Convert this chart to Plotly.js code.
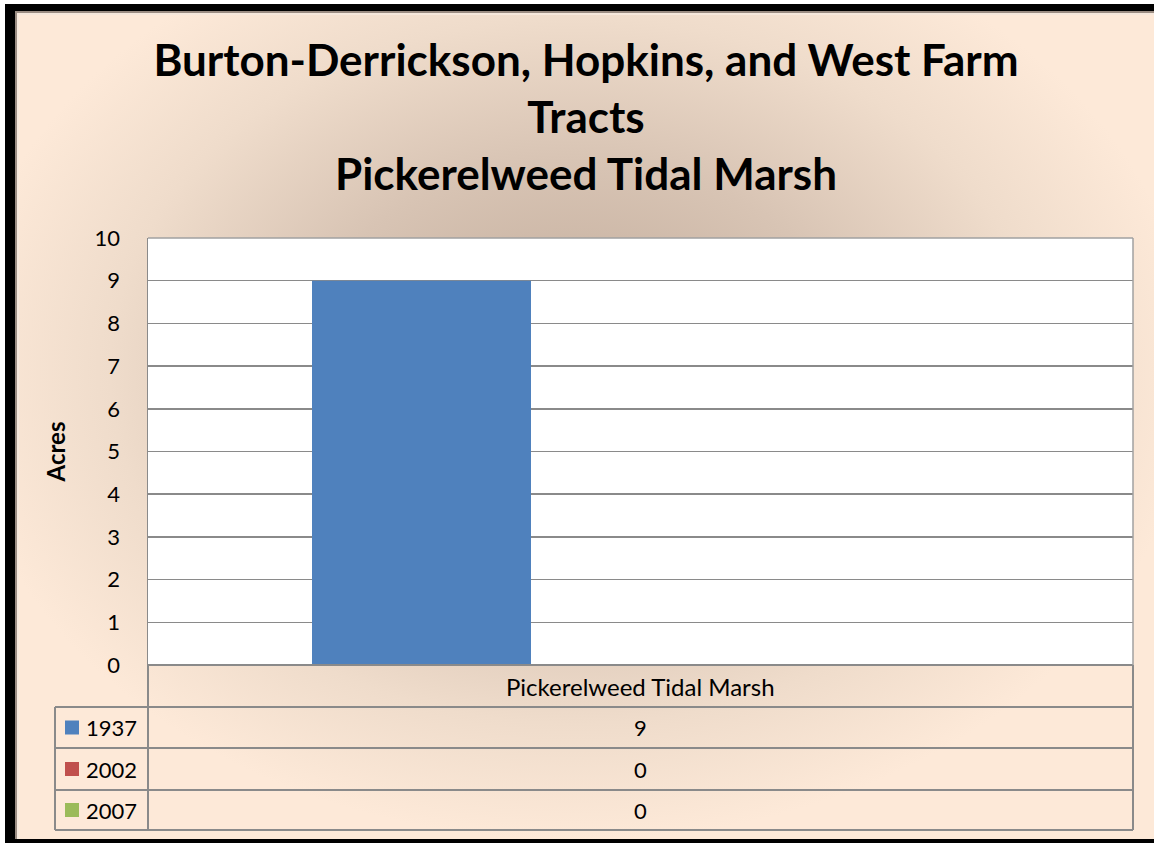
<!DOCTYPE html>
<html>
<head>
<meta charset="utf-8">
<script src="https://cdn.plot.ly/plotly-3.0.1.min.js"></script>
<style>
  html, body { margin: 0; padding: 0; width: 1154px; height: 843px; overflow: hidden; background: #ffffff; }
  #frame {
    position: absolute; left: 5px; top: 4px; width: 1160px; height: 828px;
    border-left: 10px solid #000; border-top: 7px solid #000; border-bottom: 6px solid #000;
    background: radial-gradient(ellipse 620px 470px at 560px 360px, #bea897 0%, #d8c4b4 45%, #efdccb 75%, #fde9d8 100%);
    box-shadow: inset 2px 2px 0 #9a8c82, inset 4px 4px 0 #f6e8dc;
  }
  #chart { position: absolute; left: 0; top: 0; width: 1154px; height: 843px; }
</style>
</head>
<body>
<div id="frame"></div>
<div id="chart"></div>
<script>
// Acreage of pickerelweed tidal marsh by survey year
const categories = ["Pickerelweed Tidal Marsh"];
const years = ["1937", "2002", "2007"];
const acres1937 = [9];
const acres2002 = [0];
const acres2007 = [0];
const seriesValues = [acres1937, acres2002, acres2007];
const seriesColors = ["#4f81bd", "#c0504d", "#9bbb59"];

const W = 1154, H = 843;
const M = { l: 148, r: 21, t: 238, b: 178 };
const plotW = W - M.l - M.r, plotH = H - M.t - M.b;
const px = x => (x - M.l) / plotW;          // page x -> paper x
const py = y => (H - M.b - y) / plotH;      // page y -> paper y

const FONT = "Lato, 'Open Sans', sans-serif";
const gridColor = "#8a8a8a";
const cellFont = { family: FONT, size: 22, color: "#000" };

const traces = years.map((yr, i) => ({
  type: "bar",
  name: yr,
  x: categories,
  y: seriesValues[i],
  marker: { color: seriesColors[i] },
  hoverinfo: "skip",
  showlegend: false
}));

// Data table under the plot: header row, then one row per year
const tableLeft = 55, tableRight = 1133, axisLeft = 148;
const rowTops = [665, 707, 748, 790];
const tableBottom = 830;
const shapes = [];
const lineStyle = { color: gridColor, width: 2 };
// horizontal rules
shapes.push({ type: "line", xref: "paper", yref: "paper", x0: px(axisLeft), x1: px(tableRight), y0: py(rowTops[0]), y1: py(rowTops[0]), line: lineStyle });
for (let i = 1; i < rowTops.length; i++) {
  shapes.push({ type: "line", xref: "paper", yref: "paper", x0: px(tableLeft), x1: px(tableRight), y0: py(rowTops[i]), y1: py(rowTops[i]), line: lineStyle });
}
shapes.push({ type: "line", xref: "paper", yref: "paper", x0: px(tableLeft), x1: px(tableRight), y0: py(tableBottom), y1: py(tableBottom), line: lineStyle });
// vertical rules
shapes.push({ type: "line", xref: "paper", yref: "paper", x0: px(axisLeft), x1: px(axisLeft), y0: py(rowTops[0]), y1: py(tableBottom), line: lineStyle });
shapes.push({ type: "line", xref: "paper", yref: "paper", x0: px(tableRight), x1: px(tableRight), y0: py(rowTops[0]), y1: py(tableBottom), line: lineStyle });
shapes.push({ type: "line", xref: "paper", yref: "paper", x0: px(tableLeft), x1: px(tableLeft), y0: py(rowTops[1]), y1: py(tableBottom), line: lineStyle });
// plot frame top and right
shapes.push({ type: "line", xref: "paper", yref: "paper", x0: 0, x1: 1, y0: 1, y1: 1, line: { color: "#a0a0a0", width: 1.5 } });
shapes.push({ type: "line", xref: "paper", yref: "paper", x0: 1, x1: 1, y0: 0, y1: 1, line: { color: "#a0a0a0", width: 1.5 } });

const annotations = [];
const cellCenterX = px((axisLeft + tableRight) / 2);
annotations.push({
  xref: "paper", yref: "paper", x: cellCenterX, y: py((rowTops[0] + rowTops[1]) / 2),
  xanchor: "center", yanchor: "middle",
  text: categories[0], showarrow: false, font: { family: FONT, size: 24, color: "#000" }
});
years.forEach((yr, i) => {
  const top = rowTops[i + 1];
  const bottom = i + 2 < rowTops.length ? rowTops[i + 2] : tableBottom;
  const cy = py((top + bottom) / 2);
  annotations.push({
    xref: "paper", yref: "paper", x: cellCenterX, y: cy,
    xanchor: "center", yanchor: "middle",
    text: String(seriesValues[i][0]), showarrow: false, font: cellFont
  });
  annotations.push({
    xref: "paper", yref: "paper", x: px(84), y: cy,
    xanchor: "left", yanchor: "middle",
    text: yr, showarrow: false, font: cellFont
  });
  // legend key
  shapes.push({
    type: "rect", xref: "paper", yref: "paper",
    x0: px(65), x1: px(79), y0: cy - 7 / plotH, y1: cy + 7 / plotH,
    fillcolor: seriesColors[i], line: { width: 0 }
  });
});

const layout = {
  width: W, height: H,
  margin: M,
  paper_bgcolor: "rgba(0,0,0,0)",
  plot_bgcolor: "#ffffff",
  barmode: "group",
  bargap: 0.333,
  bargroupgap: 0,
  title: {
    text: "<b>Burton-Derrickson, Hopkins, and West Farm<br>Tracts<br>Pickerelweed Tidal Marsh</b>",
    x: 586 / W, xref: "container", xanchor: "center",
    y: 1 - 76 / H, yref: "container", yanchor: "middle",
    font: { family: FONT, size: 44, color: "#000" }
  },
  xaxis: {
    type: "category",
    showticklabels: false,
    ticks: "",
    showgrid: false,
    zeroline: false,
    showline: false,
    range: [-0.5, 0.5]
  },
  yaxis: {
    range: [0, 10],
    dtick: 1,
    tick0: 0,
    showgrid: true,
    gridcolor: gridColor,
    gridwidth: 1.5,
    zeroline: false,
    showline: true,
    linecolor: gridColor,
    linewidth: 1.5,
    ticks: "",
    ticklabelstandoff: 22,
    tickfont: { family: FONT, size: 22, color: "#000" },
    title: { text: "<b>Acres</b>", standoff: 22, font: { family: FONT, size: 24, color: "#000" } }
  },
  shapes: shapes,
  annotations: annotations
};

Plotly.newPlot("chart", traces, layout, { staticPlot: true, displayModeBar: false });
</script>
</body>
</html>
